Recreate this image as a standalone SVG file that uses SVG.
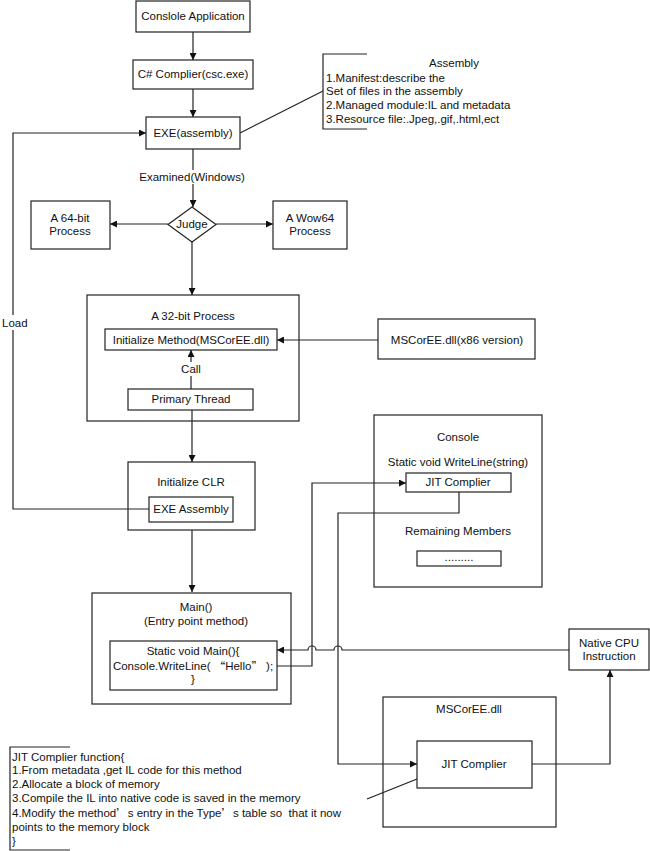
<svg xmlns="http://www.w3.org/2000/svg" width="650" height="851" viewBox="0 0 650 851">
<style>
text{font-family:"Liberation Sans",Arial,sans-serif;font-size:11.5px;fill:#111;dominant-baseline:central}
.c{text-anchor:middle}
.b{fill:#fff;stroke:#222;stroke-width:1.2}
.l{fill:none;stroke:#222;stroke-width:1.2}
.cjk{font-family:"Noto Sans CJK SC",sans-serif}
</style>
<defs>
<marker id="a" viewBox="0 0 10 10" refX="10" refY="5" markerWidth="7" markerHeight="7" markerUnits="userSpaceOnUse" orient="auto">
<path d="M0,0 L10,5 L0,10 z" fill="#111"/>
</marker>
</defs>
<rect width="650" height="851" fill="#fff"/>

<g id="connectors">
<line class="l" x1="193" y1="32" x2="193" y2="60" marker-end="url(#a)"/>
<line class="l" x1="193" y1="89" x2="193" y2="117" marker-end="url(#a)"/>
<line class="l" x1="193" y1="149" x2="193" y2="207" marker-end="url(#a)"/>
<line class="l" x1="240" y1="133" x2="323" y2="91"/>
<line class="l" x1="168" y1="224" x2="110" y2="224" marker-end="url(#a)"/>
<line class="l" x1="216" y1="224" x2="273" y2="224" marker-end="url(#a)"/>
<line class="l" x1="192" y1="242" x2="192" y2="295" marker-end="url(#a)"/>
<line class="l" x1="378" y1="340" x2="277" y2="340" marker-end="url(#a)"/>
<line class="l" x1="191" y1="389" x2="191" y2="350" marker-end="url(#a)"/>
<line class="l" x1="192" y1="410" x2="192" y2="462" marker-end="url(#a)"/>
<line class="l" x1="192" y1="530" x2="192" y2="592" marker-end="url(#a)"/>
<polyline class="l" points="149,509 13,509 13,133 146,133" marker-end="url(#a)"/>
<polyline class="l" points="277,666 312,666 312,483 406,483" marker-end="url(#a)"/>
<polyline class="l" points="459,492 459,513 338,513 338,764 417,764" marker-end="url(#a)"/>
<polyline class="l" points="532,764 610,764 610,670" marker-end="url(#a)"/>
<path class="l" d="M569,650 H342 A4,4 0 0 0 334,650 H316 A4,4 0 0 0 308,650 H277" marker-end="url(#a)"/>
<line class="l" x1="367" y1="799" x2="417" y2="779"/>
</g>

<g id="console-app"><rect class="b" x="136" y="1" width="114" height="31"/><text class="c" x="193" y="16">Conslole Application</text></g>
<g id="csc"><rect class="b" x="133" y="60" width="120" height="29"/><text class="c" x="193" y="74">C# Complier(csc.exe)</text></g>
<g id="exe"><rect class="b" x="146" y="117" width="94" height="32"/><text class="c" x="193" y="133">EXE(assembly)</text></g>

<g id="assembly-note">
<polyline class="l" points="367,54 323,54 323,129 367,129"/>
<text class="c" x="454" y="63">Assembly</text>
<text x="326" y="78">1.Manifest:describe the</text>
<text x="326" y="91">Set of files in the assembly</text>
<text x="326" y="105">2.Managed module:IL and metadata</text>
<text x="326" y="119">3.Resource file:.Jpeg,.gif,.html,ect</text>
</g>

<g id="examined"><rect x="135" y="170" width="114" height="14" fill="#fff"/><text class="c" x="192" y="177">Examined(Windows)</text></g>

<g id="judge"><polygon class="b" points="192,207 216,224.5 192,242 168,224.5"/><text class="c" x="192" y="224">Judge</text></g>
<g id="p64"><rect class="b" x="31" y="201" width="79" height="48"/><text class="c" x="70" y="218">A 64-bit</text><text class="c" x="70" y="231">Process</text></g>
<g id="wow64"><rect class="b" x="273" y="201" width="74" height="48"/><text class="c" x="310" y="218">A Wow64</text><text class="c" x="310" y="231">Process</text></g>

<g id="load"><rect x="2" y="315" width="26" height="15" fill="#fff"/><text x="2" y="323">Load</text></g>

<g id="p32">
<rect class="l" x="87" y="295" width="212" height="126"/>
<text class="c" x="193" y="316">A 32-bit Process</text>
</g>
<g id="init-method"><rect class="b" x="105" y="329" width="172" height="21"/><text class="c" x="191" y="340">Initialize Method(MSCorEE.dll)</text></g>
<g id="call"><rect x="177" y="362" width="28" height="14" fill="#fff"/><text class="c" x="191" y="369">Call</text></g>
<g id="primary"><rect class="b" x="128" y="389" width="125" height="21"/><text class="c" x="191" y="399">Primary Thread</text></g>
<g id="mscoree86"><rect class="b" x="378" y="319" width="157" height="40"/><text class="c" x="457" y="340">MSCorEE.dll(x86 version)</text></g>

<g id="init-clr">
<rect class="l" x="128" y="462" width="127" height="68"/>
<text class="c" x="191" y="482">Initialize CLR</text>
</g>
<g id="exe-assembly"><rect class="b" x="149" y="497" width="84" height="25"/><text class="c" x="191" y="509">EXE Assembly</text></g>

<g id="console">
<rect class="l" x="374" y="415" width="168" height="172"/>
<text class="c" x="458" y="437">Console</text>
<text class="c" x="458" y="462">Static void WriteLine(string)</text>
<text class="c" x="458" y="531">Remaining Members</text>
</g>
<g id="jit-console"><rect class="b" x="406" y="473" width="105" height="19"/><text class="c" x="458" y="482">JIT Complier</text></g>
<g id="dots"><rect class="b" x="417" y="551" width="84" height="15"/><text class="c" x="459" y="557">.........</text></g>

<g id="main">
<rect class="l" x="92" y="593" width="199" height="111"/>
<text class="c" x="196" y="607">Main()</text>
<text class="c" x="196" y="621">(Entry point method)</text>
</g>
<g id="static-main"><rect class="b" x="110" y="641" width="167" height="49"/>
<text class="c" x="193" y="651">Static void Main(){</text>
<text class="c" x="193" y="666" xml:space="preserve">Console.WriteLine( <tspan class="cjk">“</tspan>Hello<tspan class="cjk">”</tspan> );</text>
<text class="c" x="193" y="679">}</text>
</g>

<g id="native"><rect class="b" x="569" y="629" width="80" height="41"/><text class="c" x="609" y="643">Native CPU</text><text class="c" x="609" y="656">Instruction</text></g>

<g id="mscoree">
<rect class="l" x="383" y="697" width="173" height="130"/>
<text class="c" x="469" y="709">MSCorEE.dll</text>
</g>
<g id="jit"><rect class="b" x="417" y="741" width="115" height="47"/><text class="c" x="474" y="764">JIT Complier</text></g>

<g id="jit-note">
<polyline class="l" points="70,747 10,747 10,850 70,850"/>
<text x="12" y="757">JIT Complier function{</text>
<text x="12" y="770">1.From metadata ,get IL code for this method</text>
<text x="12" y="784">2.Allocate a block of memory</text>
<text x="12" y="798">3.Compile the IL into native code is saved in the memory</text>
<text x="12" y="813" xml:space="preserve">4.Modify the method<tspan class="cjk">’</tspan>s entry in the Type<tspan class="cjk">’</tspan>s table so  that it now</text>
<text x="12" y="827">points to the memory block</text>
<text x="12" y="841">}</text>
</g>
</svg>
